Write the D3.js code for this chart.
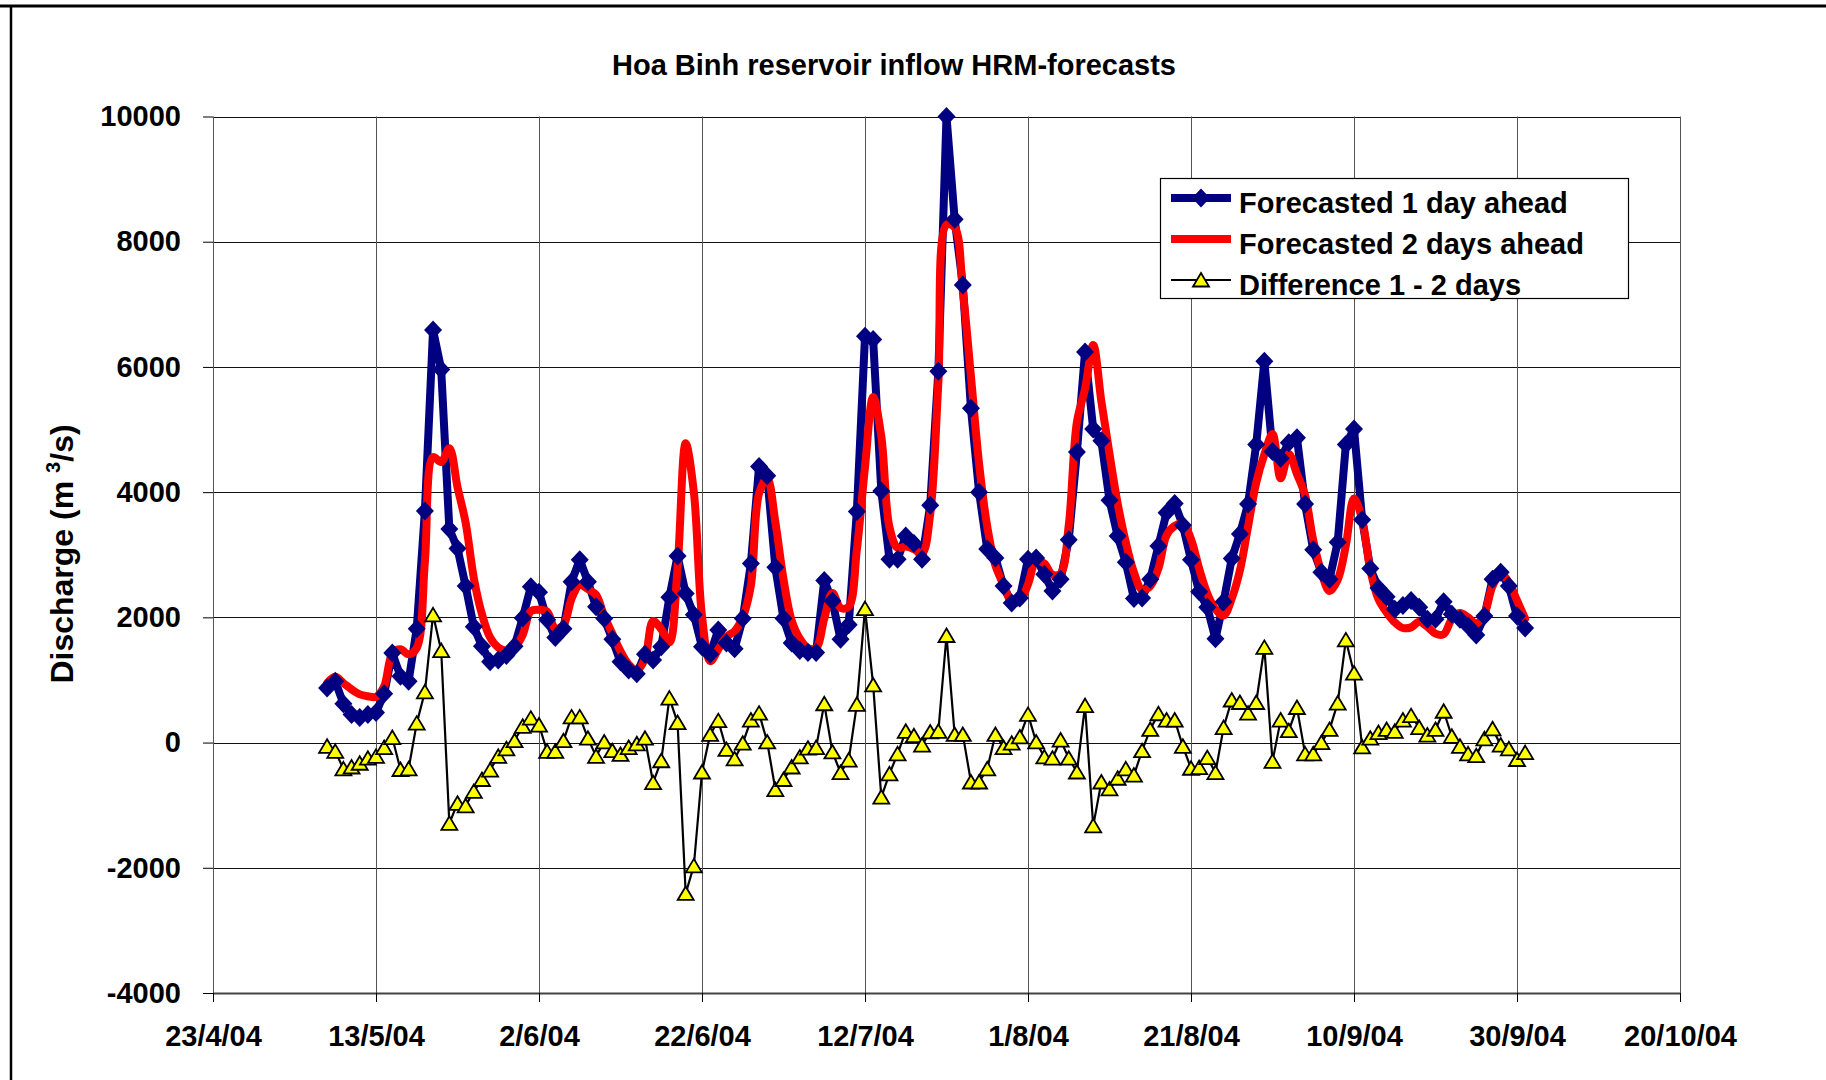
<!DOCTYPE html>
<html>
<head>
<meta charset="utf-8">
<script src="https://cdn.jsdelivr.net/npm/d3@7"></script>
<style>
  body { margin: 0; background: #fff; }
  svg text { font-family: "Liberation Sans", Arial, sans-serif; font-weight: bold; }
</style>
</head>
<body>
<svg id="chart"></svg>
<script>
// daily forecasts, first value is 7/5/04, last is 1/10/04
var firstDay = "7/5/04";

var forecast1 = [
  870, 980, 620, 450, 400, 450, 480, 780, 1430, 1060,
  980, 1820, 3700, 6590, 5960, 3410, 3100, 2500, 1850, 1540,
  1290, 1320, 1390, 1540, 1990, 2490, 2400, 1960, 1680, 1820,
  2570, 2920, 2570, 2170, 1980, 1650, 1290, 1160, 1100, 1410,
  1320, 1530, 2320, 2980, 2380, 2040, 1530, 1410, 1800, 1590,
  1500, 1980, 2860, 4410, 4260, 2800, 1980, 1590, 1470, 1440,
  1440, 2590, 2260, 1650, 1880, 3690, 6490, 6440, 4020, 2930,
  2930, 3300, 3180, 2930, 3790, 5930, 10000, 8360, 7310, 5340,
  4000, 3090, 2950, 2500, 2230, 2310, 2930, 2950, 2690, 2420,
  2610, 3240, 4640, 6240, 5010, 4820, 3870, 3300, 2880, 2300,
  2310, 2610, 3140, 3670, 3820, 3470, 2920, 2410, 2160, 1660,
  2250, 2940, 3330, 3810, 4760, 6090, 4650, 4540, 4790, 4870,
  3810, 3080, 2720, 2610, 3200, 4760, 5010, 3560, 2780, 2470,
  2330, 2130, 2190, 2270, 2160, 1970, 1970, 2250, 2050, 1970,
  1860, 1720, 2020, 2610, 2720, 2500, 2020, 1830
];

var forecast2 = [
  950, 1050, 950, 850, 770, 740, 730, 900, 1420, 1490,
  1410, 1510, 2890, 4560, 4480, 4700, 4080, 3510, 2630, 2050,
  1680, 1520, 1470, 1520, 1720, 2100, 2120, 2090, 1820, 1880,
  2300, 2520, 2450, 2360, 2020, 1740, 1460, 1250, 1150, 1340,
  1940, 1810, 1600, 2800, 4780, 4000, 2020, 1300, 1490, 1690,
  1780, 2000, 2510, 3980, 4220, 3520, 2610, 1950, 1660, 1510,
  1510, 1980, 2390, 2150, 2170, 3080, 4400, 5520, 4890, 3440,
  3110, 3130, 3090, 3020, 3650, 5750, 8270, 8230, 7220, 5850,
  4450, 3450, 2830, 2520, 2250, 2260, 2530, 2900, 2860, 2680,
  2700, 3470, 5120, 5650, 6350, 5450, 4610, 3820, 3200, 2720,
  2440, 2500, 2780, 3310, 3460, 3500, 3250, 2780, 2380, 2130,
  2030, 2300, 2750, 3450, 4150, 4600, 4930, 4220, 4610, 4290,
  3950, 3230, 2720, 2420, 2600, 3150, 3900, 3560, 2760, 2290,
  2080, 1920, 1830, 1840, 1930, 1850, 1740, 1730, 1970, 2070,
  2000, 1900, 2060, 2500, 2690, 2560, 2270, 1980
];

var difference = [
  -60, -140, -420, -390, -330, -250, -220, -80, 80, -430,
  -420, 310, 810, 2040, 1470, -1290, -970, -1010, -780, -590,
  -440, -220, -100, 30, 260, 390, 280, -140, -140, 30,
  410, 410, 70, -220, 10, -130, -190, -80, -20, 70,
  -640, -290, 710, 320, -2410, -1970, -470, 130, 350, -110,
  -260, -10, 360, 470, 10, -750, -590, -390, -230, -90,
  -80, 620, -150, -480, -280, 610, 2140, 920, -870, -500,
  -180, 180, 110, -40, 170, 180, 1710, 130, 130, -630,
  -630, -420, 130, -80, -10, 90, 450, 10, -230, -250,
  40, -250, -470, 590, -1330, -630, -740, -570, -420, -520,
  -130, 210, 460, 360, 360, -60, -410, -400, -240, -480,
  240, 680, 640, 470, 640, 1520, -300, 360, 190, 560,
  -180, -180, 0, 210, 630, 1640, 1110, -70, 70, 160,
  210, 180, 360, 430, 240, 120, 210, 500, 100, -60,
  -180, -210, 60, 220, -40, -100, -270, -160
];

var xTickLabels = ["23/4/04", "13/5/04", "2/6/04", "22/6/04", "12/7/04",
                   "1/8/04", "21/8/04", "10/9/04", "30/9/04", "20/10/04"];
var yTicks = [-4000, -2000, 0, 2000, 4000, 6000, 8000, 10000];
var seriesNames = ["Forecasted 1 day ahead", "Forecasted 2 days ahead", "Difference 1 - 2 days"];
var titleText = "Hoa Binh reservoir inflow HRM-forecasts";

var width = 1826, height = 1080;
var plotLeft = 213, plotRight = 1680, plotTop = 116.5, plotBottom = 993;
var fontSize = 29;

var parseDate = d3.timeParse("%d/%m/%y");
var fmtDate = d3.timeFormat("%-d/%-m/%y");
var start = parseDate(firstDay);
var tickDates = xTickLabels.map(parseDate);

function makeSeries(values) {
  return values.map(function (v, i) {
    return { date: d3.timeDay.offset(start, i), value: v };
  });
}
var s1 = makeSeries(forecast1);
var s2 = makeSeries(forecast2);
var s3 = makeSeries(difference);

var x = d3.scaleTime()
  .domain([tickDates[0], tickDates[tickDates.length - 1]])
  .range([plotLeft, plotRight]);
var y = d3.scaleLinear().domain([-4000, 10000]).range([plotBottom, plotTop]);

var svg = d3.select("#chart").attr("width", width).attr("height", height);
svg.append("rect").attr("width", width).attr("height", height).attr("fill", "#fff");

// frame edges (image is cropped, only top and left remain)
svg.append("line").attr("x1", 0).attr("x2", width).attr("y1", 6).attr("y2", 6)
  .attr("stroke", "#000").attr("stroke-width", 3);
svg.append("line").attr("x1", 11).attr("x2", 11).attr("y1", 5).attr("y2", height)
  .attr("stroke", "#000").attr("stroke-width", 2.5);

// gridlines
svg.append("g").selectAll("line").data(yTicks).join("line")
  .attr("x1", plotLeft).attr("x2", plotRight)
  .attr("y1", function (d) { return Math.round(y(d)) + 0.5; })
  .attr("y2", function (d) { return Math.round(y(d)) + 0.5; })
  .attr("stroke", "#111").attr("stroke-width", 1);
svg.append("g").selectAll("line").data(tickDates).join("line")
  .attr("x1", function (d) { return Math.round(x(d)) + 0.5; })
  .attr("x2", function (d) { return Math.round(x(d)) + 0.5; })
  .attr("y1", plotTop).attr("y2", plotBottom)
  .attr("stroke", "#555").attr("stroke-width", 1);

// axes
var yAxis = svg.append("g")
  .attr("transform", "translate(" + plotLeft + ",0)")
  .call(d3.axisLeft(y).tickValues(yTicks).tickSize(10).tickSizeOuter(0).tickPadding(22)
    .tickFormat(function (d) { return String(d); }));
yAxis.select(".domain").attr("stroke", "#555");
yAxis.selectAll(".tick line").attr("stroke", "#000");
yAxis.attr("font-size", fontSize).attr("font-family", null);

var xAxis = svg.append("g")
  .attr("transform", "translate(0," + plotBottom + ")")
  .call(d3.axisBottom(x).tickValues(tickDates).tickSize(9).tickSizeOuter(0).tickPadding(23)
    .tickFormat(fmtDate));
xAxis.select(".domain").attr("stroke", "#444").attr("stroke-width", 2);
xAxis.selectAll(".tick line").attr("stroke", "#000");
xAxis.attr("font-size", fontSize).attr("font-family", null);

// lines
var straight = d3.line()
  .x(function (d) { return x(d.date); })
  .y(function (d) { return y(d.value); });
var smooth = d3.line()
  .x(function (d) { return x(d.date); })
  .y(function (d) { return y(d.value); })
  .curve(d3.curveCatmullRom.alpha(0.5));

svg.append("path").datum(s1).attr("d", straight)
  .attr("fill", "none").attr("stroke", "#000080").attr("stroke-width", 8)
  .attr("stroke-linejoin", "round");
svg.append("path").datum(s2).attr("d", smooth)
  .attr("fill", "none").attr("stroke", "#ff0000").attr("stroke-width", 8)
  .attr("stroke-linejoin", "round").attr("stroke-linecap", "round");
svg.append("path").datum(s3).attr("d", straight)
  .attr("fill", "none").attr("stroke", "#000").attr("stroke-width", 2.2);

// markers
var diamond = "M0,-9.5L9,0L0,9.5L-9,0Z";
var triangle = "M0,-7L8,6.5L-8,6.5Z";

svg.append("g").selectAll("path").data(s1).join("path")
  .attr("d", diamond)
  .attr("transform", function (d) { return "translate(" + x(d.date) + "," + y(d.value) + ")"; })
  .attr("fill", "#000080");
svg.append("g").selectAll("path").data(s3).join("path")
  .attr("d", triangle)
  .attr("transform", function (d) { return "translate(" + x(d.date) + "," + y(d.value) + ")"; })
  .attr("fill", "#ffff00").attr("stroke", "#000").attr("stroke-width", 1.8)
  .attr("stroke-linejoin", "miter");

// title
svg.append("text").attr("x", 894).attr("y", 75).attr("text-anchor", "middle")
  .attr("font-size", fontSize).text(titleText);

// y axis label
var yl = svg.append("text")
  .attr("transform", "translate(73,554) rotate(-90)")
  .attr("text-anchor", "middle").attr("font-size", 32);
yl.append("tspan").text("Discharge (m");
yl.append("tspan").attr("dx", 8).attr("dy", -13).attr("font-size", 20).text("3");
yl.append("tspan").attr("dy", 13).text("/s)");

// legend
var legend = svg.append("g");
legend.append("rect").attr("x", 1160.5).attr("y", 178.5).attr("width", 468).attr("height", 120)
  .attr("fill", "#fff").attr("stroke", "#000").attr("stroke-width", 1.2);
var rowY = [198, 239, 280];
var lx1 = 1171, lx2 = 1231, lmid = 1201;
legend.append("line").attr("x1", lx1).attr("x2", lx2).attr("y1", rowY[0]).attr("y2", rowY[0])
  .attr("stroke", "#000080").attr("stroke-width", 8);
legend.append("path").attr("d", diamond)
  .attr("transform", "translate(" + lmid + "," + rowY[0] + ")").attr("fill", "#000080");
legend.append("line").attr("x1", lx1).attr("x2", lx2).attr("y1", rowY[1]).attr("y2", rowY[1])
  .attr("stroke", "#ff0000").attr("stroke-width", 8);
legend.append("line").attr("x1", lx1).attr("x2", lx2).attr("y1", rowY[2]).attr("y2", rowY[2])
  .attr("stroke", "#000").attr("stroke-width", 2.2);
legend.append("path").attr("d", triangle)
  .attr("transform", "translate(" + lmid + "," + rowY[2] + ")")
  .attr("fill", "#ffff00").attr("stroke", "#000").attr("stroke-width", 1.8);
legend.selectAll("text.lbl").data(seriesNames).join("text")
  .attr("class", "lbl")
  .attr("x", 1239)
  .attr("y", function (d, i) { return rowY[i] + 15; })
  .attr("font-size", fontSize)
  .text(function (d) { return d; });
</script>
</body>
</html>
